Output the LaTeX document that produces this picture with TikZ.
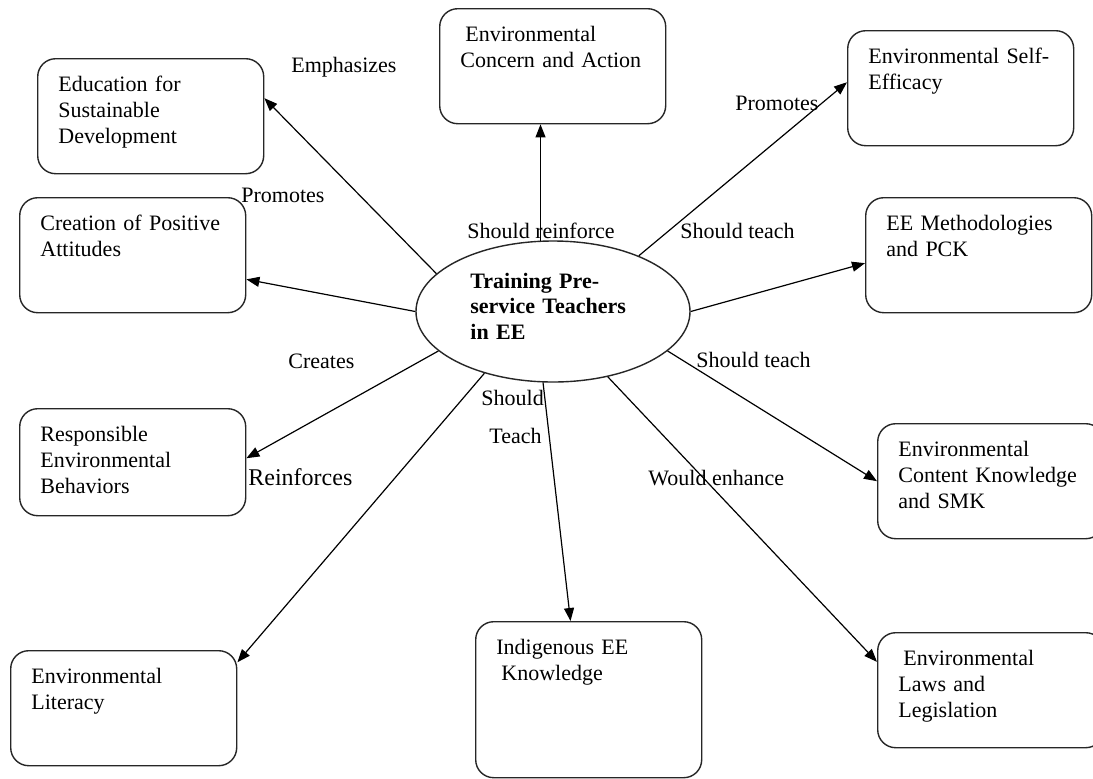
\documentclass[tikz,border=0pt]{standalone}
\usepackage{fontspec}
\setmainfont{Liberation Serif}
\usetikzlibrary{shapes.geometric,arrows.meta}
\tikzset{
  concept/.style={draw=black!85, rounded corners=9pt, line width=0.7pt, minimum width=113pt, minimum height=57.5pt, inner sep=0pt, anchor=north west},
  concepttext/.style={anchor=base west, text width=102pt, align=left, inner sep=0pt, xshift=10.5pt, yshift=-16.5pt},
  hub/.style={draw=black!85, ellipse, line width=0.7pt, inner sep=0pt, minimum width=137pt, minimum height=70.5pt},
  hubtext/.style={anchor=base west, text width=90pt, align=left, inner sep=0pt, font=\fontsize{11}{12.8}\selectfont\bfseries},
  link/.style={-{Triangle[length=6.5pt,width=5pt]}, line width=0.6pt},
  verb/.style={anchor=base west, inner sep=0pt}
}
\begin{document}
\begin{tikzpicture}[x=0.5pt, y=-0.5pt, font=\fontsize{11}{13.2}\selectfont]
\path[use as bounding box, fill=white] (0,0) rectangle (1093,778);
\clip (0,0) rectangle (1093,778);
\node[concept] (esd) at (37,58) {};
\node[concepttext] (esd-t) at (esd.north west) {Education for\\Sustainable\\Development};
\node[concept] (cpa) at (19,197) {};
\node[concepttext] (cpa-t) at (cpa.north west) {Creation of Positive\\Attitudes};
\node[concept, minimum height=53.5pt] (reb) at (19,408) {};
\node[concepttext] (reb-t) at (reb.north west) {Responsible\\Environmental\\Behaviors};
\node[concept] (elit) at (10,650) {};
\node[concepttext] (elit-t) at (elit.north west) {Environmental\\Literacy};
\node[concept, minimum height=78pt] (iek) at (475,621) {};
\node[concepttext] (iek-t) at (iek.north west) {Indigenous EE\\\hspace*{2.5pt}Knowledge};
\node[concept] (eca) at (439,8) {};
\node[concepttext] (eca-t) at (eca.north west) {\hspace*{2.5pt}Environmental\\Concern and Action};
\node[concept] (ese) at (847,30) {};
\node[concepttext] (ese-t) at (ese.north west) {Environmental Self-\\Efficacy};
\node[concept] (emp) at (865,197) {};
\node[concepttext] (emp-t) at (emp.north west) {EE Methodologies\\and PCK};
\node[concept] (eck) at (877,423) {};
\node[concepttext] (eck-t) at (eck.north west) {Environmental\\Content Knowledge\\and SMK};
\node[concept] (ell) at (877,632) {};
\node[concepttext] (ell-t) at (ell.north west) {\hspace*{2.5pt}Environmental\\Laws and\\Legislation};
\node[hub] (hub) at (553,311.5) {};
\node[hubtext] (hub-t) at (470,288) {Training Pre-\\service Teachers\\in EE};
\draw[link] (hub.162) -- (esd.9);
\draw[link] (hub.west) -- (cpa.348);
\draw[link] (hub.199) -- (reb.2);
\draw[link] (hub.222) -- (elit.22);
\draw[link] (hub.262) -- (iek.103);
\draw[link] (hub.100) -- (hub.100 |- eca.south);
\draw[link] (hub.33) -- (ese.177);
\draw[link] (hub.east) -- (emp.184);
\draw[link] (hub.341) -- (eck.west);
\draw[link] (hub.310) -- (ell.166);
\node[verb] (l-emph) at (291,72) {Emphasizes};
\node[verb] (l-prom1) at (241,202) {Promotes};
\node[verb] (l-creat) at (288,368) {Creates};
\node[verb, font=\fontsize{12}{14}\selectfont] (l-reinf) at (248,485) {Reinforces};
\node[verb] (l-sreinf) at (467,238) {Should reinforce};
\node[verb] (l-prom2) at (735,110) {Promotes};
\node[verb] (l-teach1) at (680,238) {Should teach};
\node[verb] (l-teach2) at (696,367) {Should teach};
\node[verb] (l-should) at (481,405) {Should};
\node[verb] (l-teach3) at (489,443) {Teach};
\node[verb] (l-enh) at (648,485) {Would enhance};
\end{tikzpicture}
\end{document}
